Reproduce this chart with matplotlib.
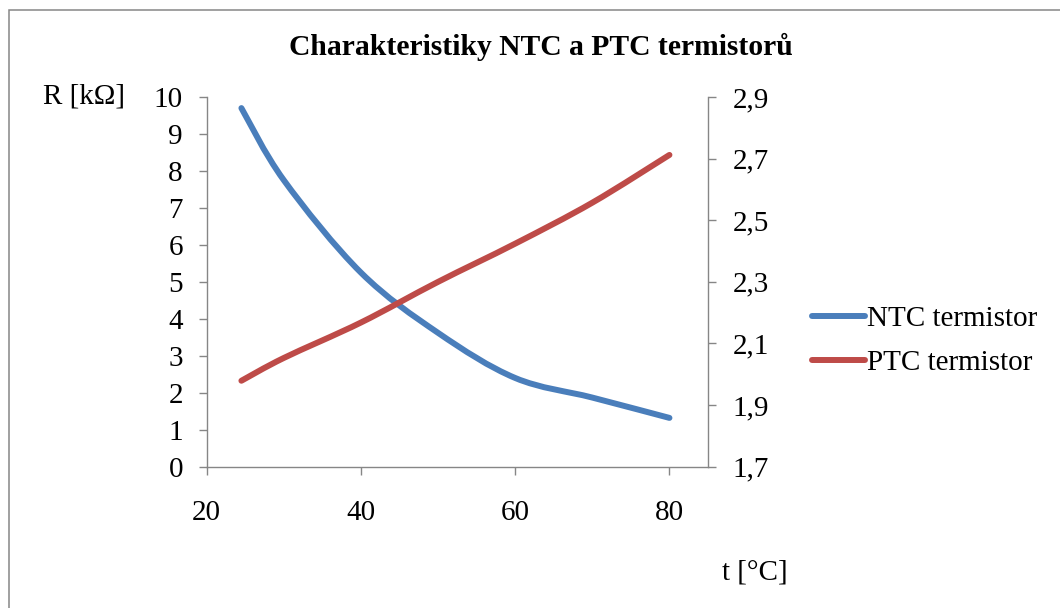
import matplotlib.pyplot as plt
from matplotlib.path import Path
from matplotlib.patches import PathPatch, Rectangle
from matplotlib.lines import Line2D
from matplotlib.ticker import FuncFormatter

plt.rcParams['font.family'] = ['Liberation Serif', 'DejaVu Serif']

# data
teplota = [24.5, 30, 40, 50, 60, 70, 80]          # t [°C]
ntc = [9.7, 7.75, 5.25, 3.62, 2.4, 1.87, 1.32]    # R [kOhm], left axis
ptc = [1.979, 2.053, 2.168, 2.300, 2.424, 2.557, 2.712]  # R [kOhm], right axis

x_ticks = [20, 40, 60, 80]
y1_ticks = list(range(0, 11))
y2_ticks = [1.7, 1.9, 2.1, 2.3, 2.5, 2.7, 2.9]

modra = "#4A7EBB"
cervena = "#BE4B48"
seda = "#868686"
fs = 21


def hladka_cesta(xs, ys):
    # smoothed line like in Excel (bezier through the points)
    pts = list(zip(xs, ys))
    n = len(pts)
    verts = [pts[0]]
    codes = [Path.MOVETO]
    for i in range(n - 1):
        p0 = pts[i - 1] if i > 0 else pts[i]
        p1 = pts[i]
        p2 = pts[i + 1]
        p3 = pts[i + 2] if i + 2 < n else pts[i + 1]
        c1 = (p1[0] + (p2[0] - p0[0]) / 6, p1[1] + (p2[1] - p0[1]) / 6)
        c2 = (p2[0] - (p3[0] - p1[0]) / 6, p2[1] - (p3[1] - p1[1]) / 6)
        verts += [c1, c2, p2]
        codes += [Path.CURVE4] * 3
    return Path(verts, codes)


fig = plt.figure(figsize=(10.6, 6.08), dpi=100)
W, H = 1060, 608
ax = fig.add_axes([206.7 / W, 1 - 466.7 / H, (708 - 206.7) / W, (466.7 - 97) / H])
ax2 = ax.twinx()

ax.add_patch(PathPatch(hladka_cesta(teplota, ntc), fill=False, edgecolor=modra,
                       lw=4.3, capstyle="round", joinstyle="round"))
ax2.add_patch(PathPatch(hladka_cesta(teplota, ptc), fill=False, edgecolor=cervena,
                        lw=4.3, capstyle="round", joinstyle="round"))

ax.set_xlim(20, 85)
ax.set_ylim(0, 10)
ax2.set_ylim(1.7, 2.9)
ax.set_xticks(x_ticks)
ax.set_yticks(y1_ticks)
ax2.set_yticks(y2_ticks)
ax2.yaxis.set_major_formatter(FuncFormatter(lambda v, p: f"{v:.1f}".replace(".", ",")))

for a in (ax, ax2):
    for s in a.spines.values():
        s.set_color(seda)
        s.set_linewidth(1.0)
    a.spines["top"].set_visible(False)
ax.spines["right"].set_visible(False)
ax2.spines["left"].set_visible(False)
ax2.spines["bottom"].set_visible(False)

ax.tick_params(axis="x", direction="out", length=5.8, width=1.0, color=seda,
               labelsize=fs, pad=18)
ax.tick_params(axis="y", direction="out", length=5.8, width=1.0, color=seda,
               labelsize=fs, pad=11.3)
ax2.tick_params(axis="y", direction="out", length=5.8, width=1.0, color=seda,
                labelsize=fs, pad=12)

# legenda
handles = [Line2D([], [], color=modra, lw=4.3, solid_capstyle="round"),
           Line2D([], [], color=cervena, lw=4.3, solid_capstyle="round")]
fig.legend(handles, ["NTC termistor", "PTC termistor"], loc="center left",
           bbox_to_anchor=(812 / W, 1 - 341 / H), frameon=False, fontsize=fs,
           handlelength=1.8, handletextpad=0.1, labelspacing=0.62,
           borderpad=0, borderaxespad=0)

# nadpis a popisky os
fig.text(541 / W, 1 - 47 / H, "Charakteristiky NTC a PTC termistorů",
         ha="center", va="center", fontsize=21.3, fontweight="bold")
fig.text(43 / W, 1 - 96 / H, "R [kΩ]", ha="left", va="center", fontsize=fs)
fig.text(722 / W, 1 - 573 / H, "t [°C]", ha="left", va="center", fontsize=fs)

# ramecek grafu
fig.patches.append(Rectangle((8.5 / W, -0.05), 1.1, 1 - 10 / H + 0.05,
                             transform=fig.transFigure, fill=False,
                             edgecolor=seda, lw=1.1))

fig.savefig("out.png", dpi=100)
